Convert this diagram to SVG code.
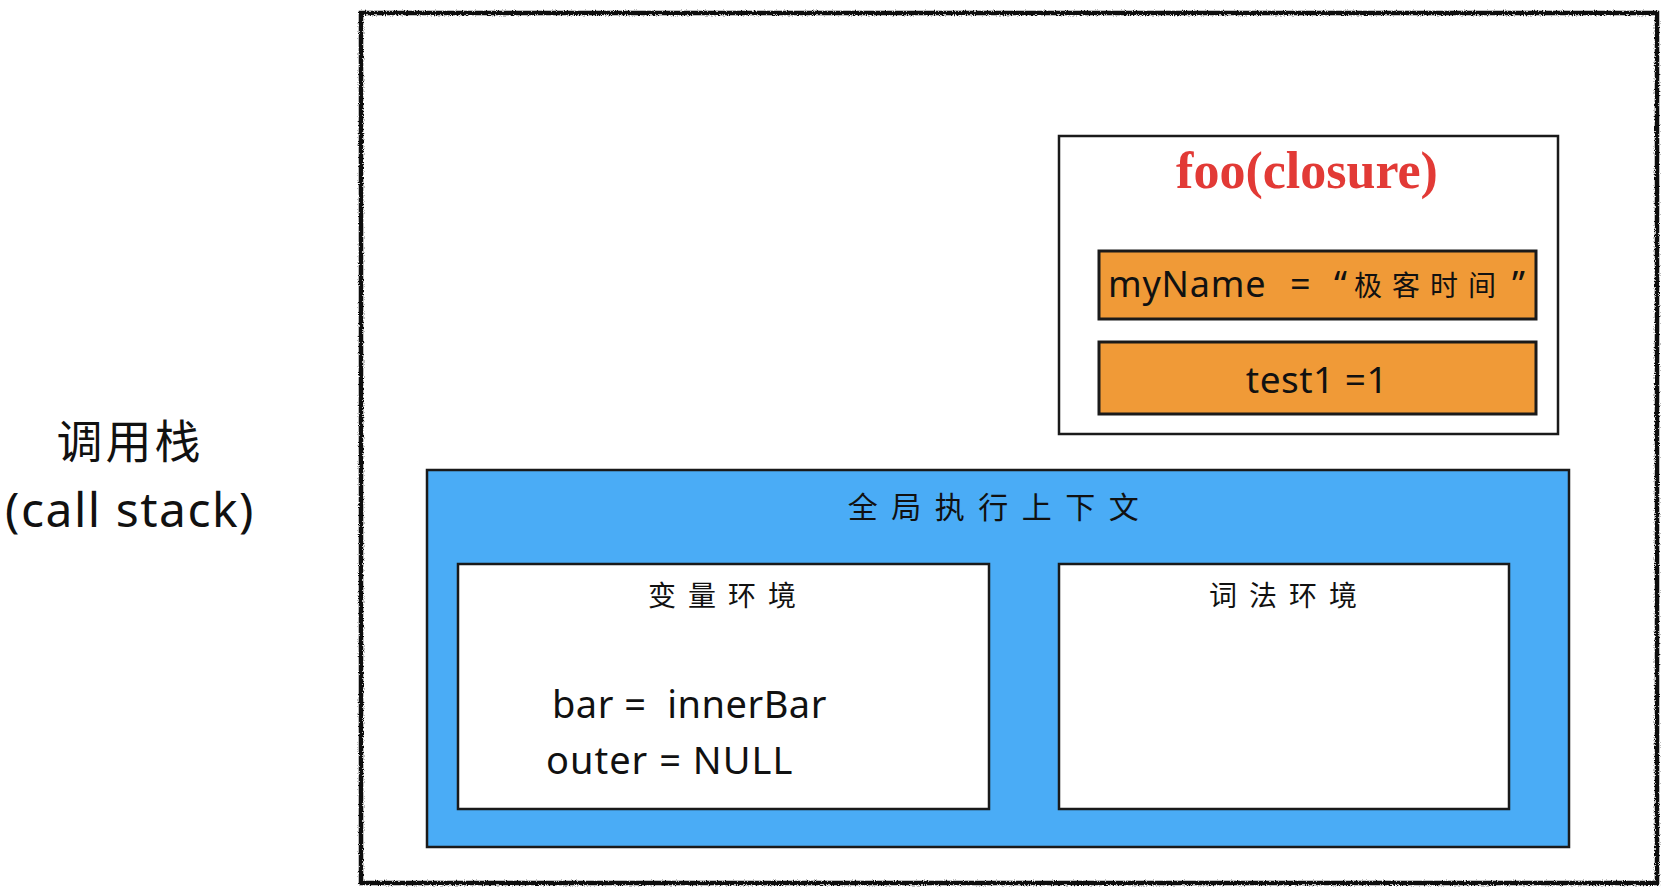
<svg xmlns="http://www.w3.org/2000/svg" width="1668" height="896" viewBox="0 0 1668 896">
<defs>
<filter id="rough" x="-2%" y="-2%" width="104%" height="104%">
<feTurbulence type="fractalNoise" baseFrequency="0.9" numOctaves="2" seed="3" result="n"/>
<feDisplacementMap in="SourceGraphic" in2="n" scale="3.5" xChannelSelector="R" yChannelSelector="G"/>
</filter>
<style>
.box{fill:#ffffff;stroke:#1a1a1a;stroke-width:2.5}
.orange{fill:#f09a37;stroke:#1a1a1a;stroke-width:3}
.blue{fill:#4aacf6;stroke:#1a1a1a;stroke-width:2.5}
.hand{font-family:"Noto Sans","Noto Sans CJK SC",sans-serif;fill:#111}
.cjk{font-family:"Noto Sans CJK SC",sans-serif;fill:#111}
.title{font-family:"Liberation Serif",serif;font-weight:bold;fill:#e23a36}
</style>
</defs>
<g id="callstack-label">
<text class="cjk" x="130" y="458" font-size="46" text-anchor="middle" letter-spacing="3">调用栈</text>
<text class="hand" x="130" y="527" font-size="48" text-anchor="middle" letter-spacing="1.5">(call stack)</text>
</g>
<g id="callstack">
<rect x="361" y="13" width="1296" height="870" fill="none" stroke="#111" stroke-width="4.5" filter="url(#rough)"/>
</g>
<g id="foo-closure">
<rect class="box" x="1059" y="136" width="499" height="298"/>
<text class="title" x="1307" y="188" font-size="52" text-anchor="middle">foo(closure)</text>
</g>
<g id="myName">
<rect class="orange" x="1099" y="251" width="437" height="68"/>
<text class="hand" x="1108" y="297" font-size="36" letter-spacing="0.8">myName</text>
<text class="hand" x="1290" y="297" font-size="36">=</text>
<text class="hand" x="1334" y="297" font-size="36">“</text>
<text class="cjk" x="1354" y="296" font-size="28" letter-spacing="10">极客时间</text>
<text class="hand" x="1512" y="297" font-size="36">”</text>
</g>
<g id="test1">
<rect class="orange" x="1099" y="342" width="437" height="72"/>
<text class="hand" x="1317" y="393" font-size="37" text-anchor="middle" letter-spacing="0.5">test1 =1</text>
</g>
<g id="global-context">
<rect class="blue" x="427" y="470" width="1142" height="377"/>
<text class="cjk" x="1000" y="518" font-size="30" text-anchor="middle" letter-spacing="13.5">全局执行上下文</text>
</g>
<g id="variable-env">
<rect class="box" x="458" y="564" width="531" height="245"/>
<text class="cjk" x="728" y="606" font-size="28" text-anchor="middle" letter-spacing="12">变量环境</text>
<text class="hand" x="552" y="718" font-size="38" letter-spacing="0.5" xml:space="preserve">bar =  innerBar</text>
<text class="hand" x="546" y="774" font-size="38" letter-spacing="1">outer = NULL</text>
</g>
<g id="lexical-env">
<rect class="box" x="1059" y="564" width="450" height="245"/>
<text class="cjk" x="1289" y="606" font-size="28" text-anchor="middle" letter-spacing="12">词法环境</text>
</g>
<g id="connectors"></g>
</svg>
